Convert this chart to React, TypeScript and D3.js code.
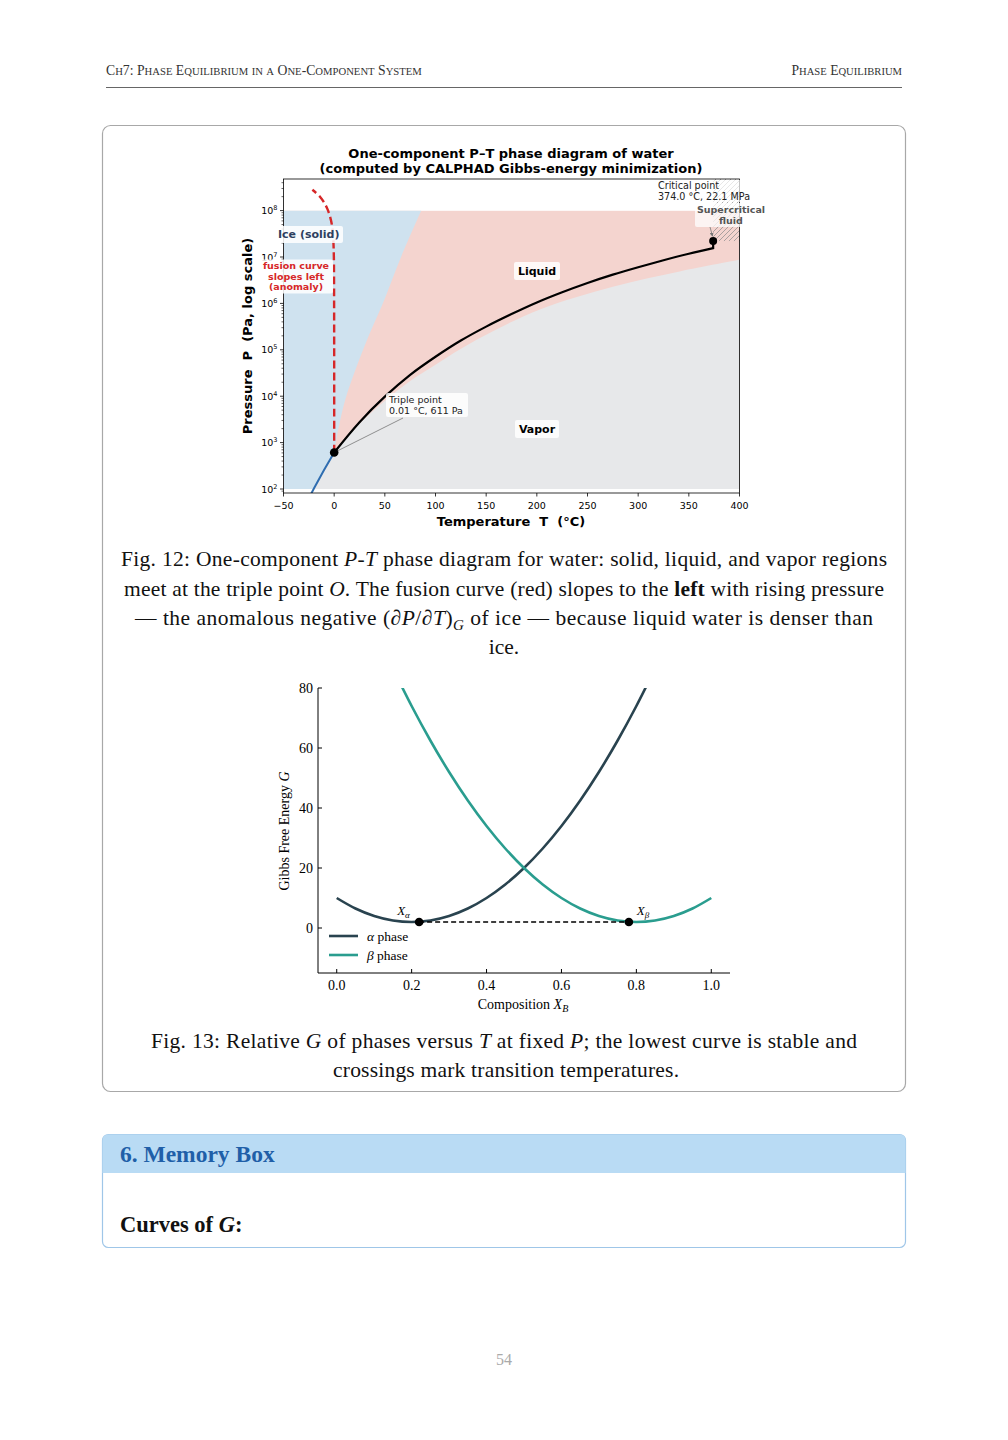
import React from "react";
import * as d3 from "d3";

const SERIF = '"Liberation Serif","Times New Roman",Times,serif';
const SANS = '"DejaVu Sans",Verdana,sans-serif';

// ---------- Fig 12 data (water P-T diagram) ----------
const xTicks12 = [-50, 0, 50, 100, 150, 200, 250, 300, 350, 400];
const yTickExps12 = [2, 3, 4, 5, 6, 7, 8];
const triple = { T: 0.01, logP: 2.786 };
const critical = { T: 374.0, logP: 7.344 };
const vapT = [0.01, 25, 50, 75, 100, 125, 150, 175, 200, 225, 250, 275, 300, 325, 350, 374];
const vapLogP = [2.786, 3.44, 3.99, 4.46, 4.85, 5.2, 5.5, 5.77, 6.02, 6.24, 6.44, 6.62, 6.78, 6.93, 7.07, 7.19];
const fusionLogP = [2.786, 6.0, 7.0, 7.3, 7.5, 7.7, 7.85, 8.0, 8.15, 8.3, 8.45];
const fusionT = [0.01, -0.05, -0.3, -0.7, -1.2, -2.3, -3.8, -6, -9.3, -14, -21.5];
const sublT = [0.01, -5, -10, -15, -20, -25];
const sublLogP = [2.786, 2.6, 2.41, 2.21, 2.01, 1.8];
const iceLiqLogP = [2.786, 3.28, 3.93, 4.57, 5.3, 6.0, 7.0, 8.0];
const iceLiqT = [0.01, 4, 11, 21, 34, 48, 66, 86];
const vapBoundT = [0.01, 25, 50, 75, 100, 141, 203, 275, 341, 400];
const vapBoundLogP = [2.786, 3.4, 3.9, 4.33, 4.68, 5.22, 5.87, 6.36, 6.69, 6.94];

// ---------- Fig 13 data (G curves) ----------
const xTicks13 = [0, 0.2, 0.4, 0.6, 0.8, 1.0];
const yTicks13 = [0, 20, 40, 60, 80];
const alphaX = [0, 0.05, 0.1, 0.15, 0.2, 0.25, 0.3, 0.35, 0.4, 0.45, 0.5, 0.55, 0.6, 0.65, 0.7, 0.75, 0.8, 0.85];
const alphaG = [10, 6.5, 4, 2.5, 2, 2.5, 4, 6.5, 10, 14.5, 20, 26.5, 34, 42.5, 52, 62.5, 74, 86.5];
const betaX = [0.15, 0.2, 0.25, 0.3, 0.35, 0.4, 0.45, 0.5, 0.55, 0.6, 0.65, 0.7, 0.75, 0.8, 0.85, 0.9, 0.95, 1.0];
const betaG = [86.5, 74, 62.5, 52, 42.5, 34, 26.5, 20, 14.5, 10, 6.5, 4, 2.5, 2, 2.5, 4, 6.5, 10];
const tieX = [0.22, 0.78];
const tieG = 2;

const ALPHA_C = "#29434f";
const BETA_C = "#2a9d8f";

function SmallCaps({ text, x, y, size, anchor = "start", fill = "#333" }: any) {
  const runs: { s: string; small: boolean }[] = [];
  for (const ch of text) {
    const small = ch >= "a" && ch <= "z";
    const last = runs[runs.length - 1];
    if (last && last.small === small) last.s += ch;
    else runs.push({ s: ch, small });
  }
  return (
    <text x={x} y={y} textAnchor={anchor} fontFamily={SERIF} fill={fill} style={{ whiteSpace: "pre" }}>
      {runs.map((r, i) => (
        <tspan key={i} fontSize={r.small ? size * 0.78 : size}>
          {r.small ? r.s.toUpperCase() : r.s}
        </tspan>
      ))}
    </text>
  );
}

function Box({ x, y, w, h, op = 0.85 }: any) {
  return <rect x={x} y={y} width={w} height={h} rx={2} fill="#fff" fillOpacity={op} />;
}

function Fig12() {
  const xs = d3.scaleLinear().domain([-50, 400]).range([283.5, 739.5]);
  const ys = d3.scaleLog().domain([82, 4.8e8]).range([493, 179]);
  const yL = (lp: number) => ys(Math.pow(10, lp));
  const pt = (T: number, lp: number): [number, number] => [xs(T), yL(lp)];
  const cr = d3.line().curve(d3.curveCatmullRom.alpha(0.5));
  const lin = d3.line();
  const asL = (p: string | null) => (p || "").replace(/^M/, "L");

  const vapPts = vapT.map((t, i) => pt(t, vapLogP[i]));
  const vapPath = cr(vapPts) + `L${xs(critical.T)},${yL(critical.logP)}`;
  const fusPts = fusionLogP.map((lp, i) => pt(fusionT[i], lp));
  const subPts = sublT.map((t, i) => pt(t, sublLogP[i]));
  const iceLiqPts = iceLiqLogP.map((lp, i) => pt(iceLiqT[i], lp));
  const vbPts = vapBoundT.map((t, i) => pt(t, vapBoundLogP[i]));

  const [x0, x1] = xs.range();
  const bluePath =
    `M${x0},${yL(1.8)}L${x0},${yL(8)}` +
    asL(cr([...iceLiqPts].reverse())) +
    asL(lin(subPts)) +
    "Z";
  const grayPath =
    lin([...subPts].reverse()) + asL(cr(vbPts)) + `L${x1},${yL(1.8)}Z`;

  const yTop = ys.range()[1];
  const yBot = ys.range()[0];
  const minor: number[] = [];
  for (let d = 1; d <= 8; d++) for (let m = 2; m <= 9; m++) {
    const v = m * Math.pow(10, d);
    if (v >= 82 && v <= 4.8e8) minor.push(v);
  }
  const tp = pt(triple.T, triple.logP);
  const cp = pt(critical.T, critical.logP);

  return (
    <g>
      <defs>
        <clipPath id="fill12">
          <rect x={x0} y={yL(8)} width={x1 - x0} height={yL(2) - yL(8)} />
        </clipPath>
        <clipPath id="ax12">
          <rect x={x0} y={yTop} width={x1 - x0} height={yBot - yTop} />
        </clipPath>
        <pattern id="hatch" patternUnits="userSpaceOnUse" width={5} height={5}>
          <path d="M0,5L5,0M-1,1L1,-1M4,6L6,4" stroke="#8a8a8a" strokeWidth={0.7} />
        </pattern>
        <marker id="arr" viewBox="0 0 6 6" refX={5} refY={3} markerWidth={5} markerHeight={5} orient="auto">
          <path d="M0,0L6,3L0,6Z" fill="#777" />
        </marker>
      </defs>

      <text x={511} y={157.5} textAnchor="middle" fontFamily={SANS} fontWeight="bold" fontSize={13}>
        One-component P–T phase diagram of water
      </text>
      <text x={511} y={172.5} textAnchor="middle" fontFamily={SANS} fontWeight="bold" fontSize={13}>
        (computed by CALPHAD Gibbs-energy minimization)
      </text>

      <g clipPath="url(#fill12)">
        <rect x={x0} y={yL(8)} width={x1 - x0} height={yL(2) - yL(8)} fill="#f4d4cf" />
        <path d={bluePath} fill="#cfe2ef" />
        <path d={grayPath} fill="#e7e8ea" />
      </g>
      <rect x={cp[0]} y={yTop} width={x1 - cp[0]} height={cp[1] - yTop} fill="url(#hatch)" />

      <g clipPath="url(#ax12)" fill="none">
        <path d={lin(subPts) || ""} stroke="#2f6db0" strokeWidth={2} />
        <path d={vapPath} stroke="#000" strokeWidth={2.2} />
        <path d={cr(fusPts) || ""} stroke="#d62728" strokeWidth={2.4} strokeDasharray="8,4" />
      </g>

      {/* spines & ticks */}
      <rect x={x0} y={yTop} width={x1 - x0} height={yBot - yTop} fill="none" stroke="#000" strokeWidth={0.8} />
      {xTicks12.map((t) => (
        <g key={t}>
          <line x1={xs(t)} x2={xs(t)} y1={yBot} y2={yBot + 3.5} stroke="#000" strokeWidth={0.8} />
          <text x={xs(t)} y={509} textAnchor="middle" fontFamily={SANS} fontSize={9.5}>
            {t < 0 ? "\u2212" + Math.abs(t) : t}
          </text>
        </g>
      ))}
      {minor.map((v) => (
        <line key={v} x1={x0} x2={x0 - 2} y1={ys(v)} y2={ys(v)} stroke="#000" strokeWidth={0.6} />
      ))}
      {yTickExps12.map((e) => (
        <g key={e}>
          <line x1={x0} x2={x0 - 3.5} y1={yL(e)} y2={yL(e)} stroke="#000" strokeWidth={0.8} />
          <text x={x0 - 6} y={yL(e) + 3.5} textAnchor="end" fontFamily={SANS} fontSize={9.5}>
            10<tspan dy={-4} fontSize={6.5}>{e}</tspan>
          </text>
        </g>
      ))}
      <text x={511} y={525.5} textAnchor="middle" fontFamily={SANS} fontWeight="bold" fontSize={13} style={{ whiteSpace: "pre" }}>
        {"Temperature  T  (°C)"}
      </text>
      <text transform="translate(251.5,336) rotate(-90)" textAnchor="middle" fontFamily={SANS} fontWeight="bold" fontSize={13} style={{ whiteSpace: "pre" }}>
        {"Pressure  P  (Pa, log scale)"}
      </text>

      {/* annotations */}
      <line x1={403} y1={418} x2={tp[0] + 2} y2={tp[1] - 1} stroke="#777" strokeWidth={0.8} />
      <circle cx={tp[0]} cy={tp[1]} r={4.3} fill="#000" />
      <circle cx={cp[0]} cy={cp[1]} r={4} fill="#000" />

      <Box x={655} y={180} w={100} h={22} op={0.7} />
      <text fontFamily={SANS} fontSize={9.6} fill="#222">
        <tspan x={658} y={188.5}>Critical point</tspan>
        <tspan x={658} y={199.5}>374.0 °C, 22.1 MPa</tspan>
      </text>
      <Box x={695} y={203} w={73} h={24} op={0.75} />
      <text fontFamily={SANS} fontSize={9.5} fontWeight="bold" fill="#555" textAnchor="middle">
        <tspan x={731} y={212.5}>Supercritical</tspan>
        <tspan x={731} y={223.5}>fluid</tspan>
      </text>
      <line x1={710} y1={227} x2={712.5} y2={236} stroke="#777" strokeWidth={0.8} markerEnd="url(#arr)" />

      <Box x={275} y={226} w={68} h={17} />
      <text x={278} y={238} fontFamily={SANS} fontSize={11} fontWeight="bold" fill="#2d3f60">
        Ice (solid)
      </text>
      <Box x={259} y={259.5} w={74} h={34} />
      <text fontFamily={SANS} fontSize={9.5} fontWeight="bold" fill="#d62728" textAnchor="middle">
        <tspan x={296} y={269}>fusion curve</tspan>
        <tspan x={296} y={279.5}>slopes left</tspan>
        <tspan x={296} y={290}>(anomaly)</tspan>
      </text>
      <Box x={514} y={262} w={46} h={18} />
      <text x={537} y={275} textAnchor="middle" fontFamily={SANS} fontSize={11} fontWeight="bold">
        Liquid
      </text>
      <Box x={515} y={420} w={44} h={18} />
      <text x={537} y={433} textAnchor="middle" fontFamily={SANS} fontSize={11} fontWeight="bold">
        Vapor
      </text>
      <Box x={386} y={393} w={82} h={24} />
      <text fontFamily={SANS} fontSize={9.5} fill="#222">
        <tspan x={389} y={402.5}>Triple point</tspan>
        <tspan x={389} y={413.5}>0.01 °C, 611 Pa</tspan>
      </text>
    </g>
  );
}

function Fig13() {
  const gx = d3.scaleLinear().domain([-0.05, 1.05]).range([318, 730]);
  const gy = d3.scaleLinear().domain([-15, 80]).range([973, 688]);
  const line = d3
    .line<[number, number]>()
    .x((d) => gx(d[0]))
    .y((d) => gy(d[1]))
    .curve(d3.curveCatmullRom.alpha(0.5));
  const aPts: [number, number][] = alphaX.map((x, i) => [x, alphaG[i]]);
  const bPts: [number, number][] = betaX.map((x, i) => [x, betaG[i]]);
  const [L, R] = gx.range();
  const [B, T] = gy.range();
  return (
    <g>
      <defs>
        <clipPath id="ax13">
          <rect x={L} y={T} width={R - L} height={B - T} />
        </clipPath>
      </defs>
      <g clipPath="url(#ax13)" fill="none" strokeWidth={2.6}>
        <path d={line(aPts) || ""} stroke={ALPHA_C} />
        <path d={line(bPts) || ""} stroke={BETA_C} />
      </g>
      <line x1={gx(tieX[0])} x2={gx(tieX[1])} y1={gy(tieG)} y2={gy(tieG)} stroke="#000" strokeWidth={1.5} strokeDasharray="5,3" />
      {tieX.map((x) => (
        <circle key={x} cx={gx(x)} cy={gy(tieG)} r={4.3} fill="#000" />
      ))}
      <text x={gx(tieX[0]) - 22} y={915} fontFamily={SERIF} fontSize={13} fontStyle="italic">
        X<tspan dy={3} fontSize={9}>α</tspan>
      </text>
      <text x={gx(tieX[1]) + 8} y={915} fontFamily={SERIF} fontSize={13} fontStyle="italic">
        X<tspan dy={3} fontSize={9}>β</tspan>
      </text>

      <line x1={L} x2={L} y1={T} y2={B} stroke="#000" strokeWidth={1} />
      <line x1={L} x2={R} y1={B} y2={B} stroke="#000" strokeWidth={1} />
      {xTicks13.map((t) => (
        <g key={t}>
          <line x1={gx(t)} x2={gx(t)} y1={B} y2={B - 4} stroke="#000" />
          <text x={gx(t)} y={990} textAnchor="middle" fontFamily={SERIF} fontSize={14}>
            {t.toFixed(1)}
          </text>
        </g>
      ))}
      {yTicks13.map((t) => (
        <g key={t}>
          <line x1={L} x2={L + 4} y1={gy(t)} y2={gy(t)} stroke="#000" />
          <text x={313} y={gy(t) + 4.5} textAnchor="end" fontFamily={SERIF} fontSize={14}>
            {t}
          </text>
        </g>
      ))}
      <text x={523} y={1009} textAnchor="middle" fontFamily={SERIF} fontSize={14}>
        Composition <tspan fontStyle="italic">X</tspan>
        <tspan dy={3} fontSize={10} fontStyle="italic">B</tspan>
      </text>
      <text transform="translate(289,831) rotate(-90)" textAnchor="middle" fontFamily={SERIF} fontSize={14}>
        Gibbs Free Energy <tspan fontStyle="italic">G</tspan>
      </text>

      <line x1={329} x2={358} y1={936} y2={936} stroke={ALPHA_C} strokeWidth={2.6} />
      <text x={367} y={940.5} fontFamily={SERIF} fontSize={13.5}>
        <tspan fontStyle="italic">α</tspan> phase
      </text>
      <line x1={329} x2={358} y1={955} y2={955} stroke={BETA_C} strokeWidth={2.6} />
      <text x={367} y={959.5} fontFamily={SERIF} fontSize={13.5}>
        <tspan fontStyle="italic">β</tspan> phase
      </text>
    </g>
  );
}

export default function App() {
  const capFs = 21.5;
  return (
    <svg width={1008} height={1440} style={{ position: "absolute", left: 0, top: 0, background: "#fff" }}>
      <rect width={1008} height={1440} fill="#fff" />
      {/* running header */}
      <SmallCaps text="Ch7: Phase Equilibrium in a One-Component System" x={106} y={75} size={13.7} />
      <SmallCaps text="Phase Equilibrium" x={902} y={75} size={13.6} anchor="end" />
      <line x1={106} x2={902} y1={87.5} y2={87.5} stroke="#666" strokeWidth={1} />

      {/* figure box */}
      <rect x={102.5} y={125.5} width={803} height={966} rx={8} fill="#fff" stroke="#a8a8a8" strokeWidth={1.2} />

      <Fig12 />

      <g fontFamily={SERIF} fontSize={capFs} textAnchor="middle" fill="#111">
        <text x={504} y={566} textLength={766} lengthAdjust="spacing">
          Fig. 12: One-component <tspan fontStyle="italic">P</tspan>-<tspan fontStyle="italic">T</tspan> phase diagram for water: solid, liquid, and vapor regions
        </text>
        <text x={504} y={596} textLength={760} lengthAdjust="spacing">
          meet at the triple point <tspan fontStyle="italic">O</tspan>. The fusion curve (red) slopes to the <tspan fontWeight="bold">left</tspan> with rising pressure
        </text>
        <text x={504} y={625} textLength={738} lengthAdjust="spacing">
          — the anomalous negative (∂<tspan fontStyle="italic">P</tspan>/∂<tspan fontStyle="italic">T</tspan>)<tspan dy={5} fontSize={15} fontStyle="italic">G</tspan><tspan dy={-5}> of ice — because liquid water is denser than</tspan>
        </text>
        <text x={504} y={654}>ice.</text>
      </g>

      <Fig13 />

      <g fontFamily={SERIF} fontSize={capFs} textAnchor="middle" fill="#111">
        <text x={504} y={1048} textLength={706} lengthAdjust="spacing">
          Fig. 13: Relative <tspan fontStyle="italic">G</tspan> of phases versus <tspan fontStyle="italic">T</tspan> at fixed <tspan fontStyle="italic">P</tspan>; the lowest curve is stable and
        </text>
        <text x={506} y={1077} textLength={346} lengthAdjust="spacing">crossings mark transition temperatures.</text>
      </g>

      {/* memory box */}
      <rect x={102.5} y={1134.5} width={803} height={113} rx={6} fill="#fff" stroke="#9fc6e8" strokeWidth={1.2} />
      <path d="M102.5,1173 L102.5,1140.5 Q102.5,1134.5 108.5,1134.5 L899.5,1134.5 Q905.5,1134.5 905.5,1140.5 L905.5,1173 Z" fill="#b9dbf4" />
      <text x={120} y={1162} fontFamily={SERIF} fontSize={23.5} fontWeight="bold" fill="#1f5fa8">
        6. Memory Box
      </text>
      <text x={120} y={1232} fontFamily={SERIF} fontSize={22.5} fontWeight="bold" fill="#111">
        Curves of <tspan fontStyle="italic">G</tspan>:
      </text>

      <text x={504} y={1365} textAnchor="middle" fontFamily={SERIF} fontSize={16} fill="#aaa">
        54
      </text>
    </svg>
  );
}
